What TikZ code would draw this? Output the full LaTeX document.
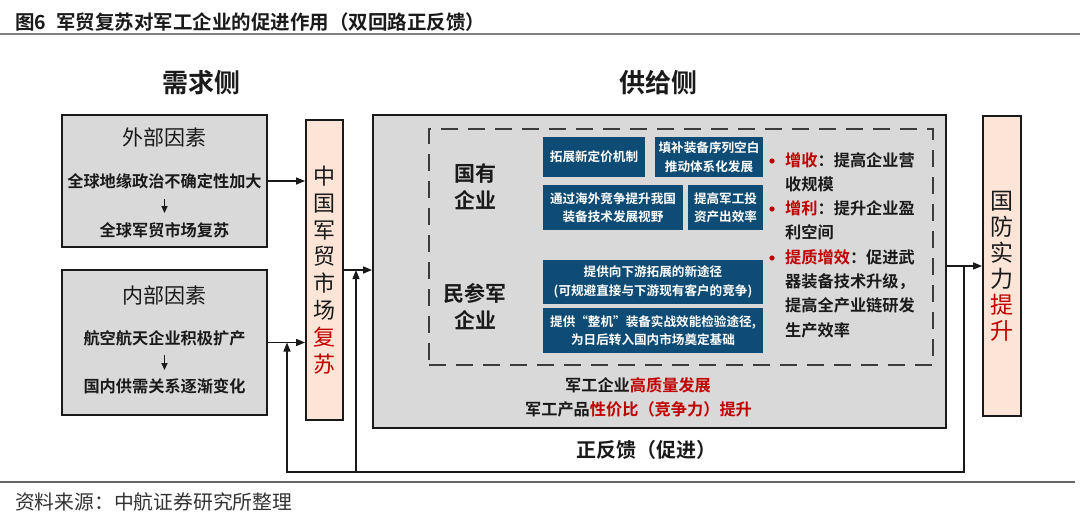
\documentclass[tikz,border=0pt]{standalone}
\usepackage{fontspec}
\setmainfont{Noto Sans CJK SC}[BoldFont={Noto Sans CJK SC Bold}]
\usetikzlibrary{arrows.meta}
\definecolor{boxgray}{HTML}{D9D9D9}
\definecolor{peach}{HTML}{FCE4D6}
\definecolor{navy}{HTML}{0F4C75}
\definecolor{dred}{HTML}{C00000}
\definecolor{ink}{HTML}{1A1A1A}
\newcommand{\fsz}[2]{\fontsize{#1}{#2}\selectfont}
\begin{document}
\begin{tikzpicture}[x=1pt,y=-1pt,
  frame/.style={draw=ink, line width=1.8pt},
  graybox/.style={frame, fill=boxgray, inner sep=0pt},
  peachbox/.style={frame, fill=peach, inner sep=0pt, align=center, text=ink},
  arr/.style={draw=ink, line width=1.4pt, -{Triangle[length=9pt,width=7pt]}},
  darr/.style={draw=ink, line width=1.4pt, -{Triangle[length=7pt,width=6pt]}},
  bluebox/.style={fill=navy, text=white, font=\bfseries\fsz{12.6}{18.5}, align=center, inner sep=0pt},
  tit/.style={font=\fsz{21}{25}, text=ink, inner sep=0pt},
  item/.style={font=\bfseries\fsz{16.2}{20}, text=ink, inner sep=0pt},
  head/.style={font=\bfseries\fsz{26}{30}, text=ink, inner sep=0pt},
  lab/.style={font=\bfseries\fsz{21}{27}, text=ink, align=center, inner sep=0pt}]
\useasboundingbox (0,0) rectangle (1080,519);
\fill[white] (0,0) rectangle (1080,519);

% title and rules
\node[anchor=west, font=\bfseries\fsz{19.5}{22}, text=ink, inner sep=0pt] (title) at (15,22) {图6\hspace{10pt}军贸复苏对军工企业的促进作用（双回路正反馈）};
\draw[line width=2pt, draw=black!50] (0,34) -- (1080,34);
\draw[line width=1.3pt, draw=black!60] (0,482) -- (1075,482);
\node[anchor=west, font=\fsz{19.8}{22}, text=black!80, inner sep=0pt] (src) at (15,502) {资料来源：中航证券研究所整理};

% headings
\node[head] (hd) at (201.5,83) {需求侧};
\node[head] (hs) at (658,83) {供给侧};

% demand side boxes
\node[graybox, minimum width=205pt, minimum height=132pt] (wai) at (164.5,181) {};
\node[graybox, minimum width=205pt, minimum height=145pt] (nei) at (164.5,342.5) {};
\node[tit] (waiT) at (164.5,137) {外部因素};
\node[item] (w1) at (164.5,181) {全球地缘政治不确定性加大};
\node[item] (w2) at (164.5,230) {全球军贸市场复苏};
\draw[darr, shorten <=10pt, shorten >=9pt] (w1) -- (w2);
\node[tit] (neiT) at (164.5,295) {内部因素};
\node[item] (n1) at (164.5,338) {航空航天企业积极扩产};
\node[item] (n2) at (164.5,386) {国内供需关系逐渐变化};
\draw[darr, shorten <=9pt, shorten >=8pt] (n1) -- (n2);

% market box
\node[peachbox, minimum width=37pt, minimum height=300pt, font=\fsz{22}{26.9}] (mkt) at (324.5,270) {中\\国\\军\\贸\\市\\场\\\textcolor{dred}{复}\\\textcolor{dred}{苏}};

% supply side
\node[graybox, minimum width=573pt, minimum height=313pt] (sup) at (659.5,271.5) {};
\node[draw=ink!85, dash pattern=on 17pt off 10pt, line width=1.5pt, minimum width=504pt, minimum height=236pt, inner sep=0pt] (dsh) at (681,247) {};
\node[lab] (gy) at (475,186.5) {国有\\企业};
\node[lab] (mc) at (475,306.5) {民参军\\企业};

\node[bluebox, minimum width=102pt, minimum height=40pt] (b1) at (594,157) {拓展新定价机制};
\node[bluebox, minimum width=108pt, minimum height=40pt] (b2) at (709,157) {填补装备序列空白\\推动体系化发展};
\node[bluebox, minimum width=140pt, minimum height=45pt] (b3) at (613,207.5) {通过海外竞争提升我国\\装备技术发展视野};
\node[bluebox, minimum width=75pt, minimum height=45pt] (b4) at (725.5,207.5) {提高军工投\\资产出效率};
\node[bluebox, minimum width=220pt, minimum height=44pt] (b5) at (653,282) {提供向下游拓展的新途径\\(可规避直接与下游现有客户的竞争)};
\node[bluebox, minimum width=220pt, minimum height=45pt] (b6) at (653,330.5) {提供“整机”装备实战效能检验途径,\\为日后转入国内市场奠定基础};

\node[anchor=west, align=left, font=\bfseries\fsz{16.2}{24.3}, text=ink, inner sep=0pt] (bl) at (785,245) {\textcolor{dred}{增收}：提高企业营\\收规模\\\textcolor{dred}{增利}：提升企业盈\\利空间\\\textcolor{dred}{提质增效}：促进武\\器装备技术升级，\\提高全产业链研发\\生产效率};
\fill[dred] (772,161) circle (2.6pt);
\fill[dred] (772,209) circle (2.6pt);
\fill[dred] (772,258) circle (2.6pt);

\node[item] (q1) at (638,385) {军工企业\textcolor{dred}{高质量发展}};
\node[item] (q2) at (638.5,409) {军工产品\textcolor{dred}{性价比（竞争力）提升}};

% defence box
\node[peachbox, minimum width=38pt, minimum height=300pt, font=\fsz{23}{26}] (def) at (1002,266) {国\\防\\实\\力\\\textcolor{dred}{提}\\\textcolor{dred}{升}};

\node[font=\bfseries\fsz{20}{24}, text=ink, inner sep=0pt] (fb) at (646,450) {正反馈（促进）};

% connectors
\draw[arr] (wai.east) -- (wai.east -| mkt.west);
\draw[arr] (nei.east) -- (nei.east -| mkt.west);
\draw[arr] (mkt.east) -- (mkt.east -| sup.west);
\draw[arr] (def.west -| sup.east) -- (def.west);
\coordinate (fr) at (964,266);
\coordinate (frb) at (964,472);
\coordinate (flb) at (287,472);
\coordinate (fib) at (356,472);
\draw[arr] (fr) -- (frb) -- (flb) -- (flb |- nei.east);
\draw[arr] (fib) -- (fib |- mkt.east);
\end{tikzpicture}
\end{document}
